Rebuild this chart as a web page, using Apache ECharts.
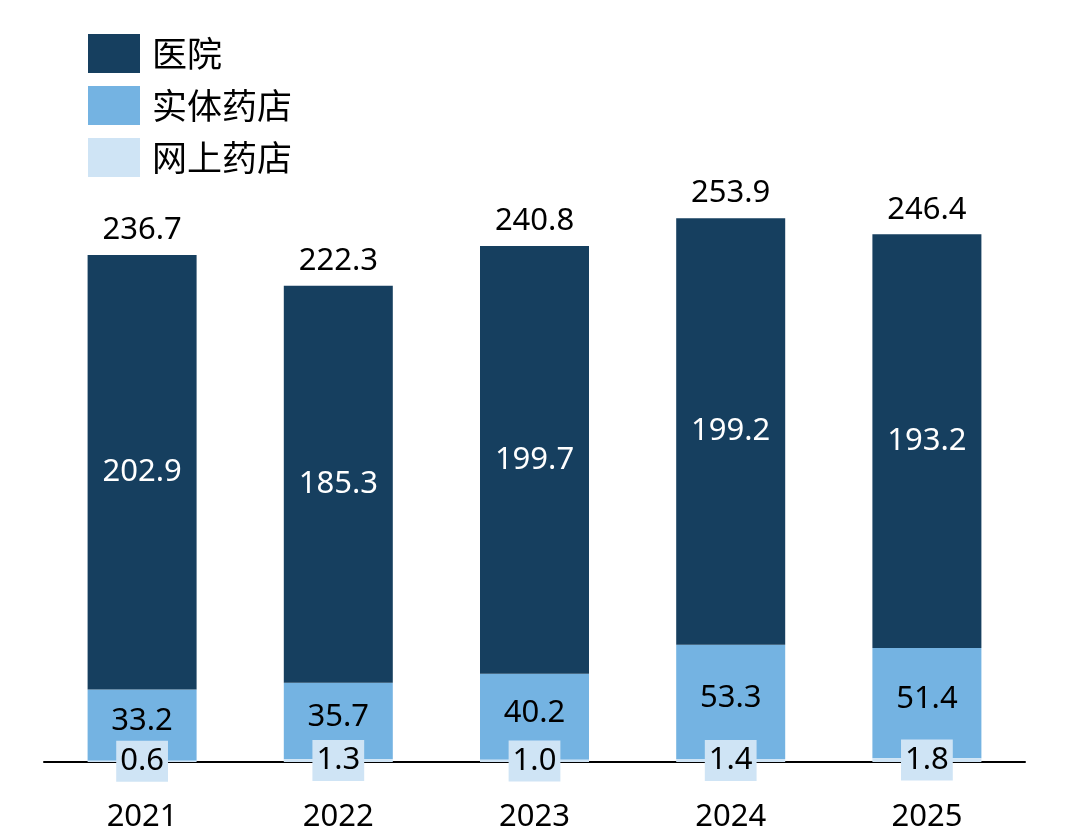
<!DOCTYPE html>
<html>
<head>
<meta charset="utf-8">
<script src="https://cdn.jsdelivr.net/npm/echarts@6/dist/echarts.min.js"></script>
<style>
  html, body { margin: 0; padding: 0; background: #fff; }
  #chart { width: 1067px; height: 835px; }
</style>
</head>
<body>
<div id="chart"></div>
<script>
// 数据
var years = ['2021', '2022', '2023', '2024', '2025'];
var hospital = [202.9, 185.3, 199.7, 199.2, 193.2];
var retail = [33.2, 35.7, 40.2, 53.3, 51.4];
var online = [0.6, 1.3, 1.0, 1.4, 1.8];
var totals = [236.7, 222.3, 240.8, 253.9, 246.4];

var font = '"Noto Sans", "Noto Sans CJK SC", sans-serif';
var chart = echarts.init(document.getElementById('chart'));

var option = {
  animation: false,
  textStyle: { fontFamily: font },
  legend: {
    data: ['医院', '实体药店', '网上药店'],
    orient: 'vertical',
    left: 88,
    top: 34,
    padding: 0,
    itemWidth: 52,
    itemHeight: 39,
    itemGap: 13,
    icon: 'rect',
    selectedMode: false,
    textStyle: { fontSize: 35, color: '#000', fontFamily: '"Noto Sans CJK SC", sans-serif', padding: [0, 0, 0, 7] }
  },
  grid: { left: 44, right: 42, top: 119.4, bottom: 73 },
  xAxis: {
    type: 'category',
    data: years,
    axisLine: { lineStyle: { color: '#000', width: 2 } },
    axisTick: { show: false },
    axisLabel: { fontSize: 31, color: '#000', margin: 40 }
  },
  yAxis: { type: 'value', min: 0, max: 300, show: false, splitLine: { show: false } },
  series: [
    {
      name: '网上药店', type: 'bar', stack: 'a', barWidth: 109,
      data: online,
      itemStyle: { color: '#cfe4f5' },
      z: 3,
      label: {
        show: true, position: 'inside', fontSize: 31, color: '#000',
        backgroundColor: '#cfe4f5', padding: [5, 4, 5, 4],
        formatter: function (p) { return p.value.toFixed(1); }
      }
    },
    {
      name: '实体药店', type: 'bar', stack: 'a',
      data: retail,
      itemStyle: { color: '#74b3e2' },
      label: {
        show: true, position: 'inside', fontSize: 31, color: '#000', offset: [0, -4],
        formatter: function (p) { return p.value.toFixed(1); }
      }
    },
    {
      name: '医院', type: 'bar', stack: 'a',
      data: hospital,
      itemStyle: { color: '#163f5f' },
      label: {
        show: true, position: 'inside', fontSize: 31, color: '#fff',
        formatter: function (p) { return p.value.toFixed(1); }
      }
    },
    {
      name: '合计', type: 'bar', stack: 'a',
      data: totals.map(function () { return 0; }),
      itemStyle: { color: 'transparent' },
      label: {
        show: true, position: 'top', fontSize: 31, color: '#000', distance: 9,
        formatter: function (p) { return totals[p.dataIndex].toFixed(1); }
      }
    }
  ]
};

chart.setOption(option);
</script>
</body>
</html>
